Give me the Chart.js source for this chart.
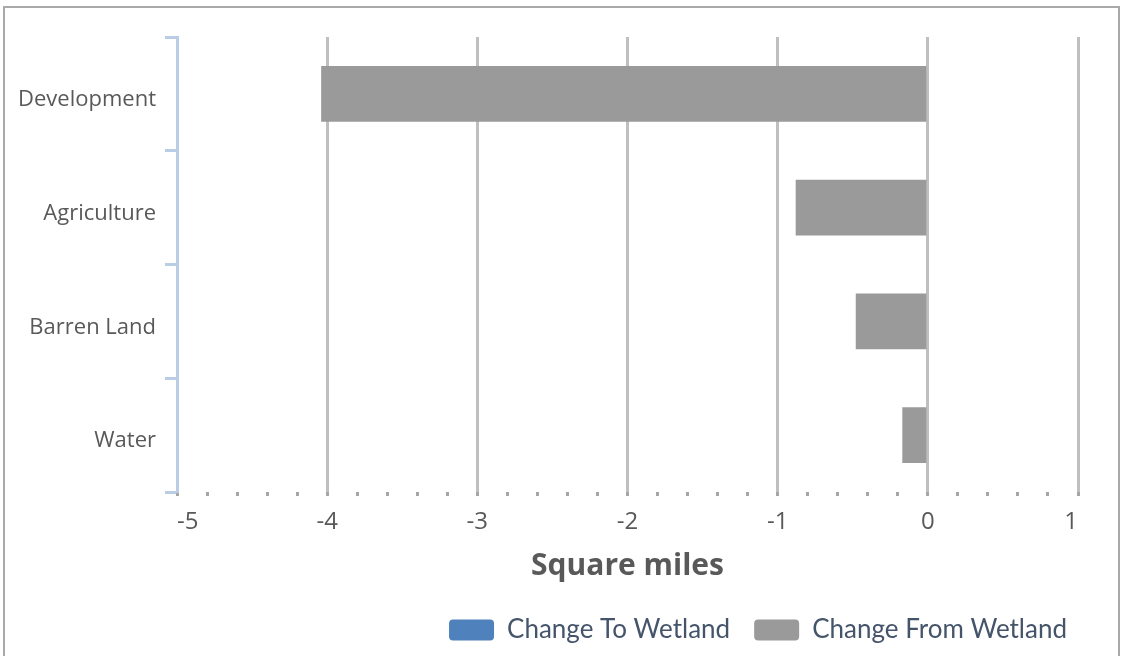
<!DOCTYPE html>
<html>
<head>
<meta charset="utf-8">
<title>Wetland change by land cover</title>
<script src="https://cdn.jsdelivr.net/npm/chart.js@4.4.1/dist/chart.umd.min.js"></script>
<style>
  html, body { margin: 0; padding: 0; background: #ffffff; overflow: hidden; }
  body { width: 1121px; height: 656px; position: relative; }
  #frame {
    position: absolute; left: 3px; top: 6px; width: 1113px; height: 700px;
    border: 2px solid #a9a9a9; box-sizing: content-box;
  }
  #chart { position: absolute; left: 0; top: 0; }
</style>
</head>
<body>
<div id="frame"></div>
<canvas id="chart" width="1121" height="656"></canvas>
<script>
// Land-cover categories, top to bottom
const categories = ['Development', 'Agriculture', 'Barren Land', 'Water'];

// Square miles converted to wetland, by source
const changeToWetland = [0, 0, 0, 0];

// Square miles of wetland converted to each land cover (shown as losses)
const changeFromWetland = [-4.04, -0.88, -0.48, -0.17];

// Axis range and labels
const xMin = -5;
const xMax = 1;
const xMinorStep = 0.2;
const xTitle = 'Square miles';
const seriesNames = ['Change To Wetland', 'Change From Wetland'];

const isWhole = v => Math.abs(v - Math.round(v)) < 1e-6;

Chart.defaults.font.family = "'Open Sans', 'DejaVu Sans', sans-serif";

new Chart(document.getElementById('chart'), {
  type: 'bar',
  data: {
    labels: categories,
    datasets: [
      {
        label: seriesNames[0],
        data: changeToWetland,
        backgroundColor: '#4f81bd',
        borderWidth: 0,
        grouped: false,
        barPercentage: 0.49,
        categoryPercentage: 1
      },
      {
        label: seriesNames[1],
        data: changeFromWetland,
        backgroundColor: '#9a9a9a',
        borderWidth: 0,
        grouped: false,
        barPercentage: 0.49,
        categoryPercentage: 1
      }
    ]
  },
  options: {
    responsive: false,
    animation: false,
    indexAxis: 'y',
    layout: { padding: { left: 0, right: 30, top: 37, bottom: 3 } },
    plugins: {
      tooltip: { enabled: false },
      legend: {
        position: 'bottom',
        align: 'end',
        labels: {
          boxWidth: 45,
          boxHeight: 21,
          padding: 24,
          useBorderRadius: true,
          borderRadius: 4,
          color: '#44546a',
          font: { family: "Lato, 'Open Sans', sans-serif", size: 26 }
        }
      }
    },
    scales: {
      x: {
        type: 'linear',
        min: xMin,
        max: xMax,
        afterFit: s => { s.height = 101; },
        ticks: {
          stepSize: xMinorStep,
          autoSkip: false,
          maxRotation: 0,
          align: 'inner',
          padding: 12,
          color: '#595959',
          font: { size: 24 },
          callback: v => isWhole(v) ? String(Math.round(v)) : ''
        },
        grid: {
          color: ctx => (ctx.tick && isWhole(ctx.tick.value) && Math.round(ctx.tick.value) !== xMin) ? '#bfbfbf' : 'rgba(0,0,0,0)',
          lineWidth: 3,
          drawTicks: true,
          tickLength: 4,
          tickColor: '#a6a6a6',
          tickWidth: 3
        },
        border: { display: false },
        title: {
          display: true,
          text: xTitle,
          color: '#595959',
          font: { size: 30, weight: 'bold' },
          padding: { top: 0, bottom: 9 }
        }
      },
      y: {
        type: 'category',
        afterFit: s => { s.width = 177; },
        ticks: {
          padding: 9,
          labelOffset: 6,
          color: '#595959',
          font: { size: 22 }
        },
        grid: {
          offset: true,
          drawOnChartArea: false,
          drawTicks: true,
          tickLength: 12,
          tickColor: '#b9cde5',
          tickWidth: 3
        },
        border: { display: true, color: '#b9cde5', width: 3 }
      },
      spacer: {
        type: 'linear',
        position: 'right',
        display: true,
        afterFit: s => { s.width = 13; },
        ticks: { display: false },
        grid: { display: false },
        border: { display: false }
      }
    }
  }
});
</script>
</body>
</html>
